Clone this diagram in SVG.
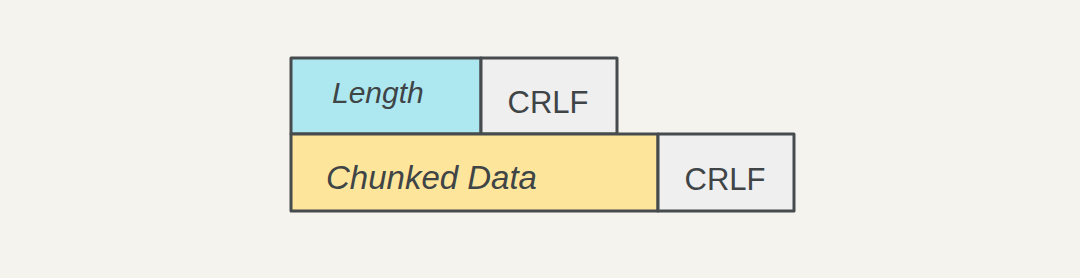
<svg xmlns="http://www.w3.org/2000/svg" width="1080" height="278" viewBox="0 0 1080 278">
<style>
.box{stroke:#464b4d;stroke-width:3;stroke-linejoin:round}
.t{font-family:"Liberation Sans",sans-serif;fill:#3f4446;font-size:30px;font-style:italic}
.c{font-family:"Liberation Sans",sans-serif;fill:#3f4446;font-size:31px}
</style>
<rect width="1080" height="278" fill="#f5f3ee"/>
<g id="length"><rect class="box" x="291" y="58" width="190" height="76" fill="#ade8f1"/><text class="t" x="332" y="103">Length</text></g>
<g id="crlf1"><rect class="box" x="481" y="58" width="136" height="76" fill="#efefef"/><text class="c" x="548" y="113" text-anchor="middle">CRLF</text></g>
<g id="chunked"><rect class="box" x="291" y="134" width="367" height="77" fill="#fde69b"/><text class="t" x="326" y="189" style="font-size:33px">Chunked Data</text></g>
<g id="crlf2"><rect class="box" x="658" y="134" width="136" height="77" fill="#efefef"/><text class="c" x="725" y="190" text-anchor="middle">CRLF</text></g>
<g id="connectors"/>
</svg>
